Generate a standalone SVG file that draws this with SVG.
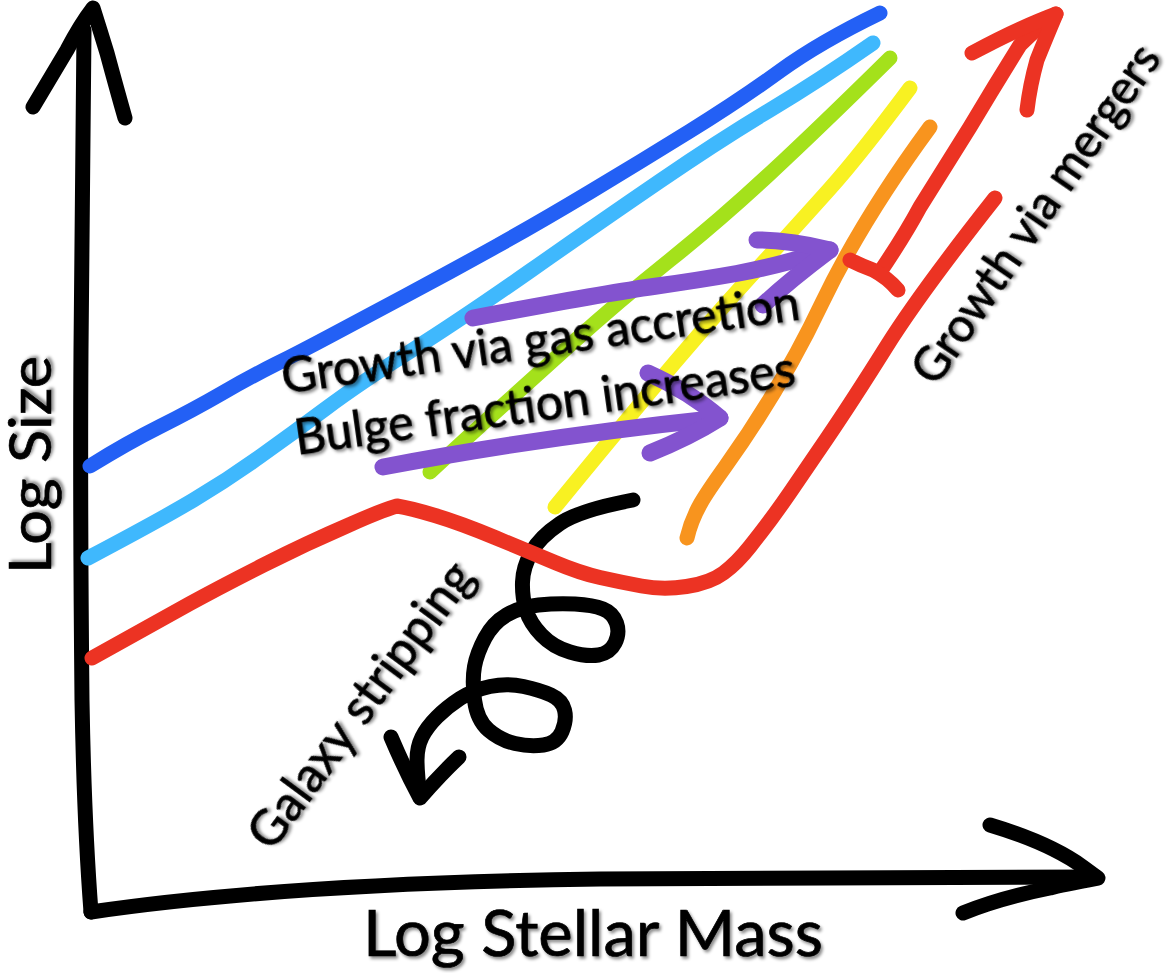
<svg xmlns="http://www.w3.org/2000/svg" width="1175" height="973" viewBox="0 0 1175 973">
<defs>
<filter id="sh" x="-10%" y="-30%" width="120%" height="160%">
<feDropShadow dx="2" dy="2.5" stdDeviation="1.5" flood-color="#000" flood-opacity="0.45"/>
</filter>
</defs>
<style>
.ln{fill:none;stroke-width:15;stroke-linecap:round;stroke-linejoin:round}
.blk{stroke:#000}
.dblue{stroke:#2360f5}
.lblue{stroke:#3fb8fd}
.green{stroke:#a4e11b}
.yellow{stroke:#f8f122}
.orange{stroke:#f8941e}
.red{stroke:#ec3323}
.purple{stroke:#8353cf;stroke-width:17}
.t{font-family:Lato,"Open Sans","Liberation Sans",sans-serif;fill:#000;stroke:#000;stroke-width:0.7;filter:url(#sh)}
</style>
<rect width="1175" height="973" fill="#fff"/>
<g id="connectors">
<g id="axis-y">
<path class="ln blk" d="M84,30 Q82,200 81,350 Q80,500 82,700 Q84,820 91,912"/>
<path class="ln blk" d="M33,107 Q55,70 67,50 Q80,25 93,8 Q100,30 107,53 Q117,90 125,118"/>
</g>
<g id="axis-x">
<path class="ln blk" d="M91,912 C220,893 380,882 600,879 L1095,877"/>
<path class="ln blk" d="M990,825 Q1050,843 1083,867 L1098,878 Q1060,885 1050,888 Q1000,898 963,913"/>
</g>
<path id="line-darkblue" class="ln dblue" d="M90,466 Q127,443 160,426.5 Q193,410 221.5,393.5 Q250,377 275,364.5 Q300,352 330,336 Q360,320 405,296 Q450,272 495,247 Q540,222 590,192 Q640,162 690,131 Q740,100 780,71 Q820,42 880,13"/>
<path id="line-lightblue" class="ln lblue" d="M88,558 Q160,520 193.5,500 Q227,480 260,456.5 Q293,433 326.5,408 Q360,383 410,351.5 Q460,320 530,271 Q600,222 660,181 Q720,140 770,110 Q820,80 873,43"/>
<path id="line-green" class="ln green" d="M430,472 Q470,435 495,412.5 Q520,390 570,345 Q620,300 670,260 Q720,220 770,173.5 Q820,127 890,58"/>
<path id="line-yellow" class="ln yellow" d="M555,507 Q600,452 650,392 Q700,332 750,277 Q800,222 830,188.5 Q860,155 910,88"/>
<g id="arrow-gas">
<path class="ln purple" d="M473,318 Q607,293 653.5,286.5 Q700,280 736.5,273.5 Q773,267 830,250"/>
<path class="ln purple" d="M757,240 Q790,240 830,250 Q790,280 763,305"/>
</g>
<g id="arrow-bulge">
<path class="ln purple" d="M383,467 Q540,437 720,418"/>
<path class="ln purple" d="M648,373 Q690,392 720,418 Q690,437 650,453"/>
</g>
<path id="line-orange" class="ln orange" d="M687,538 C693,512 705,495 725,467 C760,418 795,360 822,303 C845,255 880,195 930,127"/>
<g id="spiral">
<path class="ln blk" d="M633,500 Q580,510 560,523.5 Q540,537 531.5,552 Q523,567 522.5,582 Q522,597 526,610 Q530,623 541.5,635 Q553,647 570,652 Q587,657 598.5,655 Q610,653 615,643 Q620,633 616.5,623 Q613,613 603,609 Q593,605 575,604 Q557,603 538.5,605 Q520,607 506.5,615 Q493,623 485,638 Q477,653 474.5,666.5 Q472,680 474.5,700 Q477,720 488.5,730 Q500,740 515,743.5 Q530,747 543.5,745 Q557,743 562,731.5 Q567,720 564.5,710 Q562,700 551,695 Q540,690 523.5,686.5 Q507,683 490,686.5 Q473,690 460,698.5 Q447,707 437,717 Q427,727 422,737 Q417,747 417,760 Q417,773 420,797"/>
<path class="ln blk" d="M391,737 Q405,770 420,798 Q440,775 459,757"/>
</g>
<path id="line-red" class="ln red" d="M92,658 Q160,620 190,603.5 Q220,587 263.5,565 Q307,543 350,524.5 Q380,511 397,506 Q410,508 435,515.5 Q460,523 495,537.5 Q530,552 555,562.5 Q580,573 600,577.5 Q620,582 641.5,586 Q663,590 686.5,586.5 Q710,583 723.5,573 Q737,563 750,546.5 Q763,530 771.5,518.5 Q780,507 790,492.5 Q800,478 826.5,439 Q853,400 886.5,346.5 Q920,293 995,198"/>
<g id="arrow-mergers">
<path class="ln red" d="M880,272 Q905,235 920,207 Q945,167 970,127 Q995,85 1020,45 Q1040,25 1056,14"/>
<path class="ln red" d="M972,53 Q1000,38 1020,29 Q1040,20 1056,14 Q1045,40 1037,60 Q1030,85 1027,110"/>
<path class="ln red" d="M850,260 Q862,266 873,270 Q888,278 898,290"/>
</g>
</g>
<g id="label-gas"><text class="t" transform="translate(284,394) rotate(-8.2)" font-size="50" textLength="523" lengthAdjust="spacingAndGlyphs">Growth via gas accretion</text></g>
<g id="label-bulge"><text class="t" transform="translate(297,455) rotate(-7.9)" font-size="50" textLength="505" lengthAdjust="spacingAndGlyphs">Bulge fraction increases</text></g>
<g id="label-mergers"><text class="t" transform="translate(936,388) rotate(-55.5)" font-size="49" textLength="400" lengthAdjust="spacingAndGlyphs">Growth via mergers</text></g>
<g id="label-stripping"><text class="t" transform="translate(272,853) rotate(-53.5)" font-size="50" textLength="343" lengthAdjust="spacingAndGlyphs">Galaxy stripping</text></g>
<g id="label-logsize"><text class="t" transform="translate(51,574) rotate(-90)" font-size="59" textLength="218" lengthAdjust="spacingAndGlyphs">Log Size</text></g>
<g id="label-logmass"><text class="t" x="363" y="956" font-size="64" textLength="460" lengthAdjust="spacingAndGlyphs">Log Stellar Mass</text></g>
</svg>
